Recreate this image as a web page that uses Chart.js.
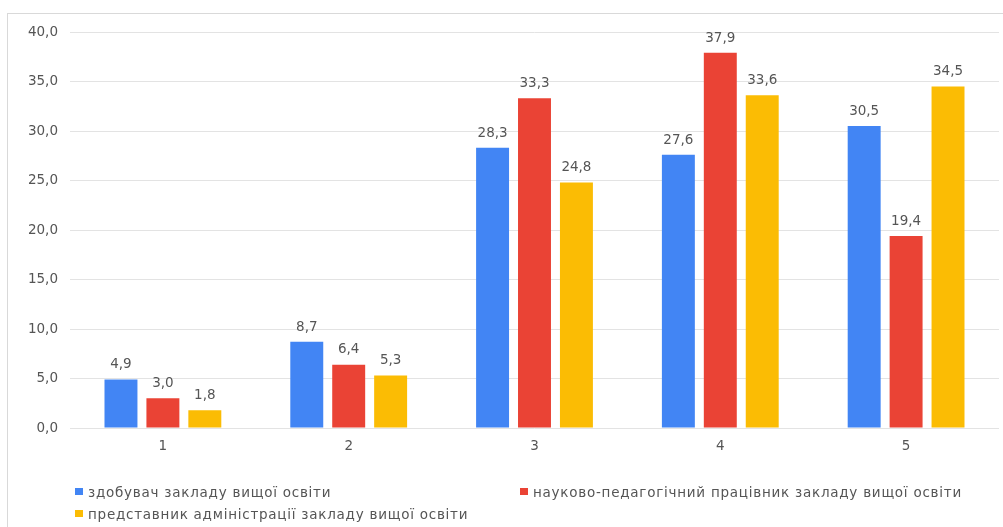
<!DOCTYPE html>
<html lang="uk">
<head>
<meta charset="utf-8">
<script src="https://cdn.jsdelivr.net/npm/chart.js@4.4.1/dist/chart.umd.min.js"></script>
<style>
  html, body { margin: 0; padding: 0; background: #fff; }
  #wrap { position: relative; width: 1003px; height: 527px; overflow: hidden; }
  #frame { position: absolute; left: 7px; top: 13px; right: 0; bottom: 0;
           border-left: 1px solid #d9d9d9; border-top: 1px solid #d9d9d9; }
  canvas { position: absolute; left: 0; top: 0; }
  #legend { position: absolute; left: 75px; top: 482px; width: 920px;
            display: grid; grid-template-columns: 445px 470px; row-gap: 3px;
            font-family: "DejaVu Sans", sans-serif; font-size: 13.5px; color: #555;
            letter-spacing: 0.75px; }
  #legend .item { display: flex; align-items: center; height: 19px; white-space: nowrap; }
  #legend .box { width: 8px; height: 7px; margin-right: 5px; flex: none; }
</style>
</head>
<body>
<div id="wrap">
  <div id="frame"></div>
  <canvas id="c" width="1003" height="527"></canvas>
  <div id="legend"></div>
</div>
<script>
// Categories and series values
const categories = ['1', '2', '3', '4', '5'];
const seriesNames = [
  'здобувач закладу вищої освіти',
  'науково-педагогічний працівник закладу вищої освіти',
  'представник адміністрації закладу вищої освіти'
];
const studentValues = [4.9, 8.7, 28.3, 27.6, 30.5];
const teacherValues = [3.0, 6.4, 33.3, 37.9, 19.4];
const adminValues = [1.8, 5.3, 24.8, 33.6, 34.5];
const yTicks = [0, 5, 10, 15, 20, 25, 30, 35, 40];

const colors = ['#4285F4', '#EA4335', '#FBBC04'];
const fmt = v => v.toFixed(1).replace('.', ',');
const FONT = '"DejaVu Sans", sans-serif';

// Writes each bar's value above it
const valueLabels = {
  id: 'valueLabels',
  afterDatasetsDraw(chart) {
    const ctx = chart.ctx;
    ctx.save();
    ctx.font = '13.5px ' + FONT;
    ctx.fillStyle = '#555';
    ctx.textAlign = 'center';
    ctx.textBaseline = 'bottom';
    chart.data.datasets.forEach((ds, i) => {
      chart.getDatasetMeta(i).data.forEach((bar, j) => {
        ctx.fillText(fmt(ds.data[j]), bar.x, bar.y - 8);
      });
    });
    ctx.restore();
  }
};

const seriesValues = [studentValues, teacherValues, adminValues];

const chart = new Chart(document.getElementById('c'), {
  type: 'bar',
  data: {
    labels: categories,
    datasets: seriesNames.map((name, i) => ({
      label: name,
      data: seriesValues[i],
      backgroundColor: colors[i],
      borderWidth: 0,
      categoryPercentage: 0.677,
      barPercentage: 0.786
    }))
  },
  options: {
    responsive: false,
    animation: false,
    devicePixelRatio: 1,
    layout: { padding: { top: 32, right: 4, left: 0, bottom: 0 } },
    plugins: { legend: { display: false }, tooltip: { enabled: false } },
    scales: {
      x: {
        grid: { display: false, drawTicks: false },
        border: { display: false },
        ticks: { color: '#555', font: { family: FONT, size: 13.5 }, padding: 10 },
        afterFit(scale) { scale.height = 99; }
      },
      y: {
        min: 0, max: 40,
        afterBuildTicks(scale) { scale.ticks = yTicks.map(v => ({ value: v })); },
        grid: { color: '#e3e3e3', lineWidth: 1, drawTicks: false },
        border: { display: false },
        ticks: { color: '#555', font: { family: FONT, size: 13.5 }, padding: 12,
                 callback: v => fmt(v) },
        afterFit(scale) { scale.width = 70; }
      }
    }
  },
  plugins: [valueLabels]
});

// Legend in two columns below the plot
const legend = document.getElementById('legend');
seriesNames.forEach((name, i) => {
  const item = document.createElement('div');
  item.className = 'item';
  const box = document.createElement('span');
  box.className = 'box';
  box.style.background = colors[i];
  const txt = document.createElement('span');
  txt.textContent = name;
  item.appendChild(box);
  item.appendChild(txt);
  legend.appendChild(item);
});
</script>
</body>
</html>
